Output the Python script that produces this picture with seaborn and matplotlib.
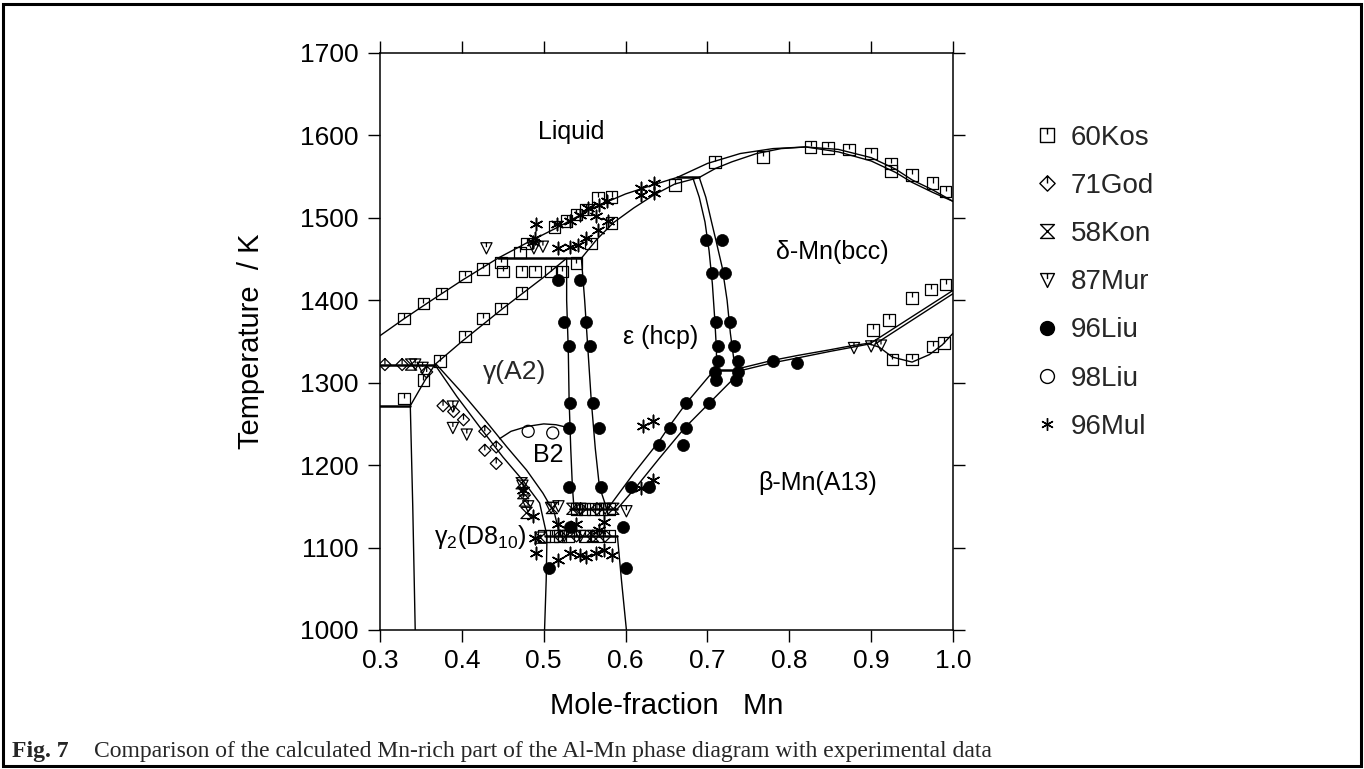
import matplotlib
matplotlib.use("Agg")
import matplotlib.pyplot as plt
from matplotlib.path import Path
from matplotlib.lines import Line2D
from matplotlib.patches import Rectangle
import seaborn as sns

# ---- calculated phase boundaries (mole fraction Mn, temperature / K) ----
liquidus_x = [0.300, 0.330, 0.360, 0.400, 0.444, 0.480, 0.520, 0.560, 0.600, 0.640, 0.663,
              0.700, 0.740, 0.780, 0.820, 0.860, 0.900, 0.930, 0.950, 0.975, 1.000]
liquidus_T = [1357, 1378, 1398, 1424, 1451, 1470, 1490, 1512, 1529, 1542, 1549,
              1566, 1578, 1584, 1586, 1583, 1573, 1559, 1546, 1534, 1520]

delta_sol_x = [0.690, 0.710, 0.730, 0.760, 0.790, 0.820, 0.860, 0.900, 0.930, 0.950, 0.975, 1.000]
delta_sol_T = [1549, 1560, 1568, 1578, 1584, 1586, 1580, 1569, 1555, 1543, 1531, 1520]

eps_sol_x = [0.546, 0.565, 0.585, 0.610, 0.635, 0.660, 0.690]
eps_sol_T = [1451, 1474, 1494, 1512, 1528, 1541, 1549]

gam_sol_x = [0.367, 0.400, 0.450, 0.500, 0.528]
gam_sol_T = [1322, 1350, 1390, 1428, 1451]

# invariant (horizontal) lines
h1451_x, h1451_T = [0.444, 0.546], [1451, 1451]
h1549_x, h1549_T = [0.663, 0.690], [1549, 1549]
h1322_x, h1322_T = [0.300, 0.367], [1322, 1322]
h1272_x, h1272_T = [0.300, 0.337], [1272, 1272]
h1315_x, h1315_T = [0.708, 0.742], [1315, 1315]
h1147_x, h1147_T = [0.532, 0.590], [1147, 1147]
h1114_x, h1114_T = [0.502, 0.590], [1114, 1114]

incl_x, incl_T = [0.337, 0.355, 0.367], [1272, 1303, 1322]
left_x, left_T = [0.337, 0.340, 0.343], [1272, 1150, 1000]

# gamma / gamma2 double line
gg1_x = [0.367, 0.394, 0.422, 0.450, 0.474, 0.495, 0.504]
gg1_T = [1322, 1283, 1246, 1210, 1182, 1154, 1114]
gg2_x = [0.369, 0.400, 0.428, 0.455, 0.479, 0.499, 0.513, 0.520]
gg2_T = [1322, 1288, 1255, 1222, 1194, 1166, 1142, 1114]

# B2 dome
b2_x = [0.446, 0.460, 0.480, 0.500, 0.515, 0.532]
b2_T = [1232, 1241, 1247, 1250, 1249, 1245]

# gamma + epsilon region
epsL_x = [0.528, 0.528, 0.530, 0.531, 0.533, 0.535, 0.537]
epsL_T = [1451, 1400, 1340, 1279, 1220, 1174, 1147]
epsR_x = [0.546, 0.550, 0.554, 0.558, 0.563, 0.568, 0.577]
epsR_T = [1451, 1400, 1340, 1279, 1220, 1174, 1147]

# epsilon + delta region
edL_x = [0.682, 0.690, 0.697, 0.702, 0.706, 0.709, 0.711, 0.711]
edL_T = [1549, 1525, 1495, 1460, 1420, 1376, 1340, 1315]
edR_x = [0.690, 0.698, 0.705, 0.711, 0.718, 0.724, 0.728, 0.732, 0.737]
edR_T = [1549, 1525, 1495, 1470, 1440, 1400, 1360, 1330, 1315]

# epsilon + beta region
ebL_x = [0.708, 0.674, 0.654, 0.641, 0.610, 0.578]
ebL_T = [1315, 1275, 1248, 1229, 1190, 1147]
ebR_x = [0.742, 0.702, 0.672, 0.641, 0.615, 0.590]
ebR_T = [1315, 1275, 1245, 1208, 1176, 1147]

# beta / delta, delta / gamma, gamma / beta
bd1_x = [0.742, 0.779, 0.810, 0.850, 0.877, 0.898]
bd1_T = [1315, 1324, 1330, 1338, 1343, 1347]
bd2_x = [0.742, 0.779, 0.810, 0.850, 0.877, 0.898]
bd2_T = [1318, 1327, 1333, 1340, 1345, 1348]
dg1_x, dg1_T = [0.898, 1.000], [1347, 1412]
dg2_x, dg2_T = [0.905, 1.000], [1347, 1408]
gb_x = [0.898, 0.910, 0.926, 0.950, 0.971, 0.987, 1.000]
gb_T = [1347, 1343, 1331, 1325, 1334, 1346, 1360]

g2R_x, g2R_T = [0.504, 0.503, 0.501], [1114, 1060, 1000]
bL_x, bL_T = [0.590, 0.595, 0.601], [1114, 1060, 1000]

# ---- experimental data ----
kos60_x = [0.329, 0.353, 0.375, 0.404, 0.426, 0.448, 0.471, 0.479, 0.513, 0.528, 0.540, 0.552,
           0.566, 0.583, 0.450, 0.473, 0.489, 0.509, 0.522, 0.540, 0.404, 0.426, 0.448, 0.473,
           0.373, 0.353, 0.329, 0.558, 0.583, 0.660, 0.709, 0.768, 0.826, 0.847, 0.873, 0.900,
           0.924, 0.924, 0.950, 0.975, 0.991, 0.902, 0.922, 0.950, 0.973, 0.991, 0.926, 0.950,
           0.975, 0.989, 0.540, 0.550, 0.560, 0.570, 0.580, 0.500, 0.510, 0.520, 0.530, 0.550,
           0.565, 0.580]
kos60_T = [1378, 1396, 1408, 1429, 1438, 1446, 1458, 1469, 1489, 1496, 1504, 1510,
           1524, 1525, 1435, 1435, 1435, 1435, 1435, 1445, 1356, 1378, 1390, 1409,
           1326, 1303, 1281, 1469, 1494, 1540, 1568, 1574, 1586, 1585, 1583, 1578,
           1566, 1557, 1552, 1542, 1532, 1364, 1376, 1403, 1413, 1419, 1328, 1328,
           1344, 1348, 1147, 1147, 1147, 1147, 1147, 1114, 1114, 1114, 1114, 1114,
           1114, 1114]

god71_x = [0.306, 0.327, 0.357, 0.377, 0.390, 0.402, 0.428, 0.428, 0.442, 0.442,
           0.545, 0.565, 0.520, 0.540, 0.560, 0.575]
god71_T = [1322, 1322, 1313, 1272, 1265, 1255, 1241, 1218, 1222, 1202,
           1147, 1147, 1114, 1114, 1114, 1114]

kon58_x = [0.338, 0.473, 0.475, 0.477, 0.479, 0.510, 0.535, 0.496, 0.585, 0.560]
kon58_T = [1322, 1178, 1166, 1157, 1142, 1148, 1147, 1112, 1147, 1114]

mur87_x = [0.343, 0.352, 0.389, 0.389, 0.406, 0.430, 0.488, 0.499, 0.474, 0.481,
           0.509, 0.518, 0.601, 0.879, 0.900, 0.912, 0.545, 0.575, 0.525, 0.545]
mur87_T = [1322, 1318, 1271, 1245, 1237, 1463, 1463, 1465, 1175, 1150,
           1148, 1150, 1144, 1342, 1344, 1345, 1147, 1147, 1114, 1114]

liu96_x = [0.518, 0.544, 0.525, 0.552, 0.531, 0.556, 0.532, 0.560, 0.531, 0.568, 0.531, 0.570,
           0.532, 0.507, 0.597, 0.601, 0.607, 0.629, 0.641, 0.670, 0.654, 0.674, 0.674, 0.702,
           0.698, 0.718, 0.706, 0.722, 0.711, 0.727, 0.713, 0.733, 0.713, 0.737, 0.709, 0.737,
           0.711, 0.735, 0.780, 0.810]
liu96_T = [1425, 1425, 1374, 1374, 1344, 1344, 1275, 1275, 1245, 1245, 1174, 1174,
           1125, 1075, 1125, 1075, 1174, 1174, 1225, 1225, 1245, 1245, 1275, 1275,
           1473, 1473, 1433, 1433, 1374, 1374, 1344, 1344, 1326, 1326, 1313, 1313,
           1303, 1303, 1326, 1324]

liu98_x = [0.481, 0.511]
liu98_T = [1241, 1239]

mul96_x = [0.491, 0.489, 0.518, 0.532, 0.542, 0.552, 0.566, 0.578, 0.564, 0.532, 0.544, 0.554,
           0.568, 0.577, 0.619, 0.619, 0.635, 0.635, 0.516, 0.487,
           0.621, 0.633, 0.633, 0.619, 0.487, 0.489, 0.491, 0.518, 0.518, 0.532, 0.544, 0.552,
           0.564, 0.574, 0.583, 0.574, 0.568, 0.540, 0.475]
mul96_T = [1492, 1475, 1463, 1465, 1467, 1475, 1485, 1496, 1502, 1496, 1504, 1512,
           1516, 1520, 1536, 1528, 1542, 1530, 1492, 1471,
           1247, 1253, 1182, 1172, 1138, 1111, 1093, 1085, 1129, 1093, 1091, 1089,
           1093, 1097, 1091, 1131, 1121, 1129, 1170]

x_ticks = [0.3, 0.4, 0.5, 0.6, 0.7, 0.8, 0.9, 1.0]
x_tick_labels = ["0.3", "0.4", "0.5", "0.6", "0.7", "0.8", "0.9", "1.0"]
y_ticks = [1000, 1100, 1200, 1300, 1400, 1500, 1600, 1700]
y_tick_labels = ["1000", "1100", "1200", "1300", "1400", "1500", "1600", "1700"]

legend_labels = ["60Kos", "71God", "58Kon", "87Mur", "96Liu", "98Liu", "96Mul"]


M, L, C = Path.MOVETO, Path.LINETO, Path.CLOSEPOLY
SQUARE = Path([(-1, -1), (1, -1), (1, 1), (-1, 1), (-1, -1), (0, 1), (0, 0.1)],
              [M, L, L, L, C, M, L])
DIAMOND = Path([(0, 1), (1, 0), (0, -1), (-1, 0), (0, 1), (0, 1), (0, 0)],
               [M, L, L, L, C, M, L])
HOURGLASS = Path([(-1, 1), (1, 1), (-1, -1), (1, -1), (-1, 1)], [M, L, L, L, C])
TRIANGLE = Path([(-1, 1), (1, 1), (0, -1), (-1, 1), (0, 1), (0, 0.2)],
                [M, L, L, C, M, L])
ASTER = (6, 2, 0)


def main() -> None:
    sns.set_theme(style="ticks")
    plt.rcParams["font.family"] = ["Liberation Sans", "DejaVu Sans"]
    plt.rcParams["mathtext.fontset"] = "custom"
    plt.rcParams["mathtext.rm"] = "Liberation Sans"

    fig = plt.figure(figsize=(13.64, 7.69), dpi=100)
    ax = fig.add_axes([0.2786, 0.1808, 0.4201, 0.7503])

    boundaries = [
        (liquidus_x, liquidus_T), (delta_sol_x, delta_sol_T), (eps_sol_x, eps_sol_T),
        (gam_sol_x, gam_sol_T), (incl_x, incl_T), (left_x, left_T), (gg1_x, gg1_T),
        (gg2_x, gg2_T), (b2_x, b2_T), (epsL_x, epsL_T), (epsR_x, epsR_T),
        (edL_x, edL_T), (edR_x, edR_T), (ebL_x, ebL_T), (ebR_x, ebR_T),
        (bd1_x, bd1_T), (bd2_x, bd2_T), (dg1_x, dg1_T), (dg2_x, dg2_T), (gb_x, gb_T),
        (g2R_x, g2R_T), (bL_x, bL_T),
    ]
    invariants = [
        (h1451_x, h1451_T), (h1549_x, h1549_T), (h1322_x, h1322_T), (h1272_x, h1272_T),
        (h1315_x, h1315_T), (h1147_x, h1147_T), (h1114_x, h1114_T),
    ]
    for xs, ts in boundaries:
        sns.lineplot(x=xs, y=ts, sort=False, estimator=None, color="black",
                     linewidth=1.0, ax=ax, legend=False)
    for xs, ts in invariants:
        sns.lineplot(x=xs, y=ts, sort=False, estimator=None, color="black",
                     linewidth=1.8, ax=ax, legend=False)

    # experimental points
    open_kw = dict(color="black", facecolor="none", edgecolor="black", linewidth=0.9,
                   ax=ax, legend=False, zorder=3)
    sns.scatterplot(x=kos60_x, y=kos60_T, marker=SQUARE, s=70, **open_kw)
    sns.scatterplot(x=god71_x, y=god71_T, marker=DIAMOND, s=75, **open_kw)
    sns.scatterplot(x=kon58_x, y=kon58_T, marker=HOURGLASS, s=65, **open_kw)
    sns.scatterplot(x=mur87_x, y=mur87_T, marker=TRIANGLE, s=65, **open_kw)
    sns.scatterplot(x=liu98_x, y=liu98_T, marker="o", s=75, **open_kw)
    sns.scatterplot(x=liu96_x, y=liu96_T, marker="o", s=75, color="black",
                    edgecolor="black", linewidth=0.5, ax=ax, legend=False, zorder=3)
    sns.scatterplot(x=mul96_x, y=mul96_T, marker=ASTER, s=80, color="black",
                    linewidth=1.1, ax=ax, legend=False, zorder=3)

    # phase labels
    lab = dict(fontsize=18, ha="center", va="center", color="black")
    ax.text(0.533, 1604, "Liquid", **lab)
    ax.text(0.643, 1356, "\u03b5 (hcp)", **lab)
    ax.text(0.852, 1459, "\u03b4-Mn(bcc)", **lab)
    ax.text(0.465, 1313, "\u03b3(A2)", fontsize=19, ha="center", va="center")
    ax.text(0.505, 1212, "B2", **lab)
    ax.text(0.422, 1113, "\u03b3" + r"$_\mathregular{2}$(D8$_\mathregular{10}$)", **lab)
    ax.text(0.835, 1178, "\u03b2-Mn(A13)", **lab)

    ax.set_xlim(0.3, 1.0)
    ax.set_ylim(1000, 1700)
    ax.set_xticks(x_ticks)
    ax.set_xticklabels(x_tick_labels)
    ax.set_yticks(y_ticks)
    ax.set_yticklabels(y_tick_labels)
    ax.tick_params(direction="out", length=8.5, width=1.0, color="black",
                   top=True, right=True, labelsize=19, labelcolor="black")
    ax.tick_params(axis="y", pad=7)
    ax.tick_params(axis="x", pad=5)
    for sp in ax.spines.values():
        sp.set_color("black")
        sp.set_linewidth(1.1)

    ax.set_xlabel("Mole-fraction   Mn", fontsize=21, color="black")
    ax.set_ylabel("Temperature  / K", fontsize=21, color="black")
    ax.xaxis.set_label_coords(0.5, -0.108)
    ax.yaxis.set_label_coords(-0.2, 0.5)

    handles = [
        Line2D([], [], ls="none", marker=SQUARE, ms=10, mfc="none", mec="black", mew=1.0),
        Line2D([], [], ls="none", marker=DIAMOND, ms=11, mfc="none", mec="black", mew=1.0),
        Line2D([], [], ls="none", marker=HOURGLASS, ms=10, mfc="none", mec="black", mew=1.0),
        Line2D([], [], ls="none", marker=TRIANGLE, ms=10, mfc="none", mec="black", mew=1.0),
        Line2D([], [], ls="none", marker="o", ms=10, mfc="black", mec="black"),
        Line2D([], [], ls="none", marker="o", ms=10, mfc="none", mec="black", mew=1.0),
        Line2D([], [], ls="none", marker=ASTER, ms=9, color="black", mew=1.0),
    ]
    fig.legend(handles=handles, labels=legend_labels, loc="upper left",
               bbox_to_anchor=(0.7595, 0.838), frameon=False, fontsize=20,
               labelspacing=0.8, handlelength=0.8, handletextpad=0.45,
               borderpad=0, borderaxespad=0)

    # caption and frame
    fig.text(12 / 1364, 1 - 752 / 769, "Fig. 7", family="Liberation Serif",
             fontweight="bold", fontsize=17, va="center")
    fig.text(94 / 1364, 1 - 752 / 769,
             "Comparison of the calculated Mn-rich part of the Al-Mn phase diagram with experimental data",
             family="Liberation Serif", fontsize=17, va="center")
    fig.add_artist(Rectangle((3 / 1364, 3 / 769), 1358 / 1364, 762 / 769,
                             transform=fig.transFigure, fill=False, lw=2.2, color="black"))

    fig.savefig("out.png", dpi=100, facecolor="white")


if __name__ == "__main__":
    main()
